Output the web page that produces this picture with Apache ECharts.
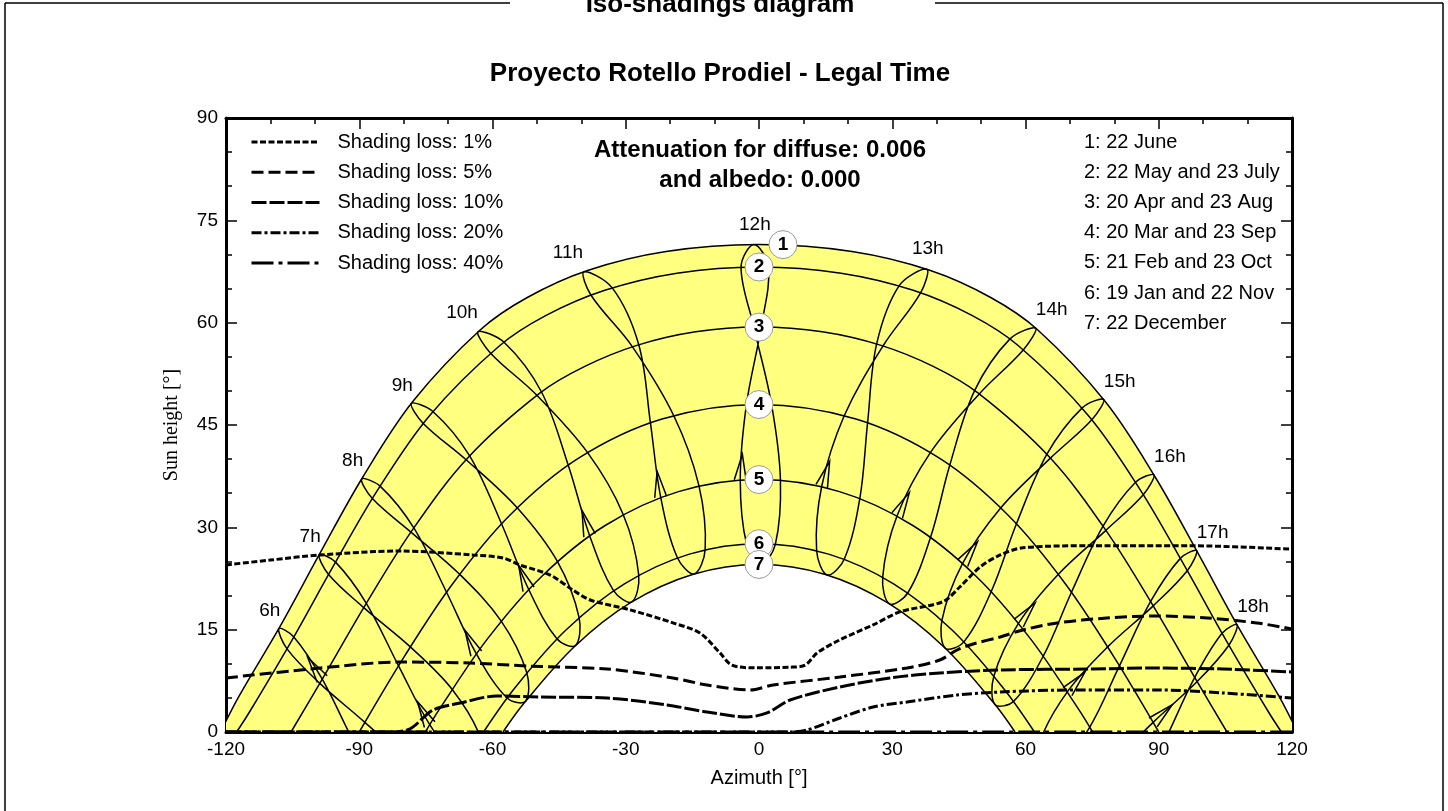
<!DOCTYPE html>
<html>
<head>
<meta charset="utf-8">
<script src="https://cdn.jsdelivr.net/npm/echarts@6/dist/echarts.min.js"></script>
<style>
  html, body { margin: 0; padding: 0; background: #fff; }
  #chart { width: 1448px; height: 811px; }
</style>
</head>
<body>
<div id="chart"></div>
<script>
// ---- texts ----
const chartTitle = 'Iso-shadings diagram';
const subTitle = 'Proyecto Rotello Prodiel - Legal Time';
const attenuationLines = ['Attenuation for diffuse: 0.006', 'and albedo: 0.000'];
const dateLabels = ['1: 22 June', '2: 22 May and 23 July', '3: 20 Apr and 23 Aug',
  '4: 20 Mar and 23 Sep', '5: 21 Feb and 23 Oct', '6: 19 Jan and 22 Nov', '7: 22 December'];
const markerLabels = ['1', '2', '3', '4', '5', '6', '7'];
const hourLabels = ['6h', '7h', '8h', '9h', '10h', '11h', '12h', '13h', '14h', '15h', '16h', '17h', '18h'];
const isoNames = ['Shading loss: 1%', 'Shading loss: 5%', 'Shading loss: 10%', 'Shading loss: 20%', 'Shading loss: 40%'];

// ---- sun paths for the seven dates (azimuth °, sun height °) ----
const curveAz = [
  [-121.2, -117.16, -107.86, -98.77, -89.19, -77.95, -62.78, -52.27, -38.6, -20.94, 0, 20.94, 38.6, 52.27, 62.78, 77.95, 89.19, 98.77, 107.86, 117.16, 121.2],
  [-117.62, -114.78, -105.26, -95.88, -85.91, -74.18, -58.47, -47.93, -34.71, -18.47, 0, 18.47, 34.71, 47.93, 58.47, 74.18, 85.91, 95.88, 105.26, 114.78, 117.62],
  [-105.36, -98.49, -88.58, -77.91, -65.38, -49.28, -39.21, -27.49, -14.25, 0, 14.25, 27.49, 39.21, 49.28, 65.38, 77.91, 88.58, 98.49, 105.36],
  [-90, -79.83, -68.88, -56.21, -40.79, -21.83, 0, 21.83, 40.79, 56.21, 68.88, 79.83, 90],
  [-75.12, -71.79, -61.05, -48.87, -34.63, -18.13, 0, 18.13, 34.63, 48.87, 61.05, 71.79, 75.12],
  [-62.02, -54.80, -43.34, -30.30, -15.67, 0, 15.67, 30.30, 43.34, 54.80, 62.02],
  [-57.64, -52.83, -41.64, -29.01, -14.96, 0, 14.96, 29.01, 41.64, 52.83, 57.64]
];
const curveH = [
  [0, 5.15, 15.44, 26.28, 37.38, 48.44, 58.93, 63.65, 67.64, 70.42, 71.44, 70.42, 67.64, 63.65, 58.93, 48.44, 37.38, 26.28, 15.44, 5.15, 0],
  [0, 2.86, 13.33, 24.27, 35.41, 46.37, 56.58, 61.06, 64.74, 67.25, 68.16, 67.25, 64.74, 61.06, 56.58, 46.37, 35.41, 24.27, 13.33, 2.86, 0],
  [0, 7.57, 18.68, 29.74, 40.31, 49.70, 53.59, 56.67, 58.66, 59.35, 58.66, 56.67, 53.59, 49.70, 40.31, 29.74, 18.68, 7.57, 0],
  [0, 11.09, 21.81, 31.70, 40.06, 45.87, 48.0, 45.87, 40.06, 31.70, 21.81, 11.09, 0],
  [0, 3.50, 13.72, 22.84, 30.27, 35.23, 37.0, 35.23, 30.27, 22.84, 13.72, 3.50, 0],
  [0, 6.60, 15.02, 21.71, 26.07, 27.60, 26.07, 21.71, 15.02, 6.60, 0],
  [0, 4.28, 12.47, 18.92, 23.10, 24.56, 23.10, 18.92, 12.47, 4.28, 0]
];

// number badges on the date paths
const markerAz = [5.4, 0, 0, 0, 0, 0, 0];
const markerH = [71.44, 68.16, 59.35, 48.0, 37.0, 27.6, 24.56];

// ---- hour loops, one row per hour, nodes Dec, Jan, Feb, Mar, Apr, May, Jun, Jul, Aug, Sep, Oct, Nov ----
const loopAz = [
  [-71.9, -76.2, -84.0, -91.27, -98.33, -104.73, -108.10, -106.26, -98.88, -88.73, -79.2, -72.4],
  [-62.6, -66.8, -74.13, -81.15, -88.41, -95.34, -99.02, -96.90, -88.99, -78.51, -69.11, -62.75],
  [-52.55, -56.71, -63.65, -70.35, -77.72, -85.31, -89.46, -87.04, -78.36, -67.41, -58.07, -52.30],
  [-41.32, -45.50, -51.87, -57.97, -65.15, -73.43, -78.29, -75.59, -65.94, -54.45, -45.43, -40.51],
  [-28.65, -32.75, -38.15, -42.96, -48.97, -57.40, -63.27, -60.48, -50.02, -38.62, -30.60, -27.08],
  [-14.57, -18.37, -22.14, -24.45, -27.07, -33.04, -39.43, -37.85, -28.49, -19.21, -13.54, -12.12],
  [0.40, -2.80, -4.22, -2.84, 0.48, 2.15, -1.15, -4.04, -1.15, 2.84, 4.83, 3.68],
  [15.35, 12.97, 14.12, 19.21, 27.91, 36.38, 37.77, 31.57, 26.49, 24.45, 22.72, 19.22],
  [29.37, 27.85, 31.11, 38.62, 49.59, 59.54, 62.29, 56.46, 48.54, 42.96, 38.66, 33.52],
  [41.96, 41.18, 45.87, 54.45, 65.61, 74.93, 77.61, 72.77, 64.82, 57.97, 52.31, 46.17],
  [53.11, 52.89, 58.45, 67.41, 78.10, 86.51, 88.92, 84.78, 77.46, 70.35, 64.03, 57.30],
  [63.1, 63.3, 69.45, 78.51, 88.75, 96.42, 98.52, 94.86, 88.17, 81.15, 74.47, 67.3],
  [72.4, 72.9, 79.5, 88.73, 98.65, 105.79, 107.62, 104.26, 98.10, 91.27, 84.4, 76.7]
];
const loopH = [
  [-15.2, -15.4, -9.86, -1.41, 7.75, 13.94, 15.16, 12.18, 7.13, 1.41, -4.46, -11.0],
  [-4.88, -4.84, 1.08, 9.70, 18.87, 24.90, 25.99, 23.09, 18.23, 12.48, 6.27, -0.72],
  [4.52, 4.99, 11.49, 20.49, 29.92, 36.04, 37.08, 34.22, 29.30, 23.13, 16.28, 8.71],
  [12.67, 13.67, 20.92, 30.53, 40.48, 46.98, 48.15, 45.23, 39.90, 32.87, 25.04, 16.79],
  [19.06, 20.72, 28.82, 39.14, 49.84, 57.12, 58.67, 55.57, 49.36, 40.98, 31.93, 23.01],
  [23.18, 25.54, 34.44, 45.35, 56.76, 65.10, 67.45, 64.06, 56.46, 46.39, 36.14, 26.77],
  [24.56, 27.55, 36.90, 47.95, 59.35, 68.16, 71.44, 68.12, 59.35, 47.95, 36.88, 27.51],
  [23.02, 26.60, 36.02, 46.39, 56.58, 64.38, 67.83, 65.42, 56.88, 45.35, 34.32, 25.37],
  [18.78, 22.70, 31.72, 40.98, 49.56, 56.04, 59.19, 57.59, 50.04, 39.14, 28.61, 20.41],
  [12.27, 16.37, 24.76, 32.87, 40.14, 45.76, 48.73, 47.51, 40.72, 30.53, 20.64, 13.25],
  [4.04, 8.21, 15.95, 23.13, 29.56, 34.78, 37.68, 36.60, 30.18, 20.49, 11.16, 4.49],
  [-5.41, -1.27, 5.92, 12.48, 18.49, 23.64, 26.57, 25.45, 19.13, 9.70, 0.73, -5.4],
  [-15.7, -11.6, -4.82, 1.41, 7.39, 12.72, 15.72, 14.48, 8.01, -1.41, -10.2, -16.0]
];

// ---- iso-shading lines ----
const iso1Az = [-120, -110.1, -98.8, -80.8, -64.4, -57.6, -53.8, -47.0, -41.9, -38.0, -29.0, -19.4, -13.3, -8.8, -6.1, -0.5, 7.0, 10.4, 13.1, 18.2, 25.7, 31.7, 41.4, 45.2, 49.8, 54.3, 59.4, 74.5, 97.0, 120];
const iso1H = [24.48, 25.2, 25.95, 26.53, 25.95, 25.5, 24.48, 23.0, 20.8, 19.35, 17.9, 16.0, 14.5, 11.6, 9.8, 9.4, 9.5, 9.8, 11.6, 13.5, 15.7, 17.6, 19.1, 21.25, 24.2, 25.95, 27.0, 27.3, 27.3, 26.8];
const iso5Az = [-120, -98.8, -80.8, -65.1, -52.2, -34.2, -19.4, -11.7, -2.0, 3.2, 18.2, 33.3, 40.7, 44.6, 48.2, 54.3, 59.4, 67.1, 78.3, 89.6, 100.9, 112.1, 120];
const iso5H = [7.92, 9.38, 10.26, 10.11, 9.67, 9.23, 7.92, 6.89, 6.16, 6.89, 8.06, 9.38, 10.55, 12.02, 12.9, 13.93, 14.95, 15.98, 16.71, 17.0, 16.71, 15.98, 15.1];
const iso10Az = [-120, -85.3, -79.2, -73.4, -67.3, -59.0, -49.3, -34.2, -20.7, -11.7, -2.7, 1.8, 7.0, 18.2, 29.5, 40.7, 54.3, 74.5, 89.6, 104.5, 120];
const iso10H = [0, 0, 0.29, 3.22, 4.25, 5.28, 5.13, 4.98, 3.96, 2.93, 2.2, 2.79, 4.69, 6.6, 7.92, 8.65, 9.09, 9.23, 9.38, 9.23, 8.8];
const iso20Az = [-120, 7.0, 10.8, 18.2, 25.7, 33.3, 44.6, 54.3, 70.7, 89.6, 104.5, 120];
const iso20H = [0, 0, 0.29, 2.05, 3.66, 4.4, 5.42, 5.86, 6.16, 6.16, 5.72, 4.98];
const iso40Az = [-120, 120];
const iso40H = [0, 0];

// ---- drawing ----
const FONT = "'Liberation Sans', Arial, Helvetica, sans-serif";
const SERIF = "'Liberation Serif', 'Times New Roman', serif";
const YELLOW = '#FFFF80';
const pairs = (xs, ys) => xs.map((x, i) => [x, ys[i]]);

const isoAz = [iso1Az, iso5Az, iso10Az, iso20Az, iso40Az];
const isoH = [iso1H, iso5H, iso10H, iso20H, iso40H];
const isoDash = [[6, 2.5], [12, 5], [15, 3], [10, 3, 3, 3], [22, 5, 4, 5]];

// closed analemma loop plus a direction arrow leaving the February node
function renderLoop(params, api) {
  const i = params.dataIndex;
  const pts = loopAz[i].map((az, j) => api.coord([az, loopH[i][j]]));
  const children = [{
    type: 'polygon',
    shape: { points: pts, smooth: 0.35 },
    style: { fill: 'none', stroke: '#000', lineWidth: 1.5 }
  }];
  let j = 2;
  while (j < 6 && loopH[i][j] <= 0) j++;
  const p0 = pts[j], p1 = pts[j + 1];
  const dx = p1[0] - p0[0], dy = p1[1] - p0[1];
  const len = Math.hypot(dx, dy) || 1;
  const ux = dx / len, uy = dy / len;
  const tip = [p0[0] + ux * 26, p0[1] + uy * 26];
  children.push({
    type: 'polyline',
    shape: { points: [[p0[0] - uy * 6, p0[1] + ux * 6], tip, [p0[0] + uy * 6, p0[1] - ux * 6]] },
    style: { fill: 'none', stroke: '#000', lineWidth: 1.5 }
  });
  return { type: 'group', children };
}

function hourLabelOffset(i) {
  const hour = 6 + i;
  if (hour <= 9) return [-9, -18];
  if (hour <= 11) return [-16, -19];
  if (hour <= 13) return [1, -20];
  return [16, -18];
}

const series = [];

// yellow band between the June and December paths
series.push({
  type: 'line', data: pairs(curveAz[0], curveH[0]), smooth: 0.35, symbol: 'none',
  lineStyle: { width: 0, opacity: 0 }, areaStyle: { color: YELLOW, opacity: 1 },
  z: 1, silent: true, animation: false
});
series.push({
  type: 'line', data: pairs(curveAz[6], curveH[6]), smooth: 0.35, symbol: 'none',
  lineStyle: { width: 0, opacity: 0 }, areaStyle: { color: '#FFFFFF', opacity: 1 },
  z: 1, silent: true, animation: false
});

// date paths
curveAz.forEach((az, k) => {
  series.push({
    type: 'line', data: pairs(az, curveH[k]), smooth: 0.35, symbol: 'none',
    lineStyle: { color: '#000', width: 1.5 }, z: 3, silent: true, animation: false
  });
});

// hour loops
series.push({
  type: 'custom', renderItem: renderLoop,
  data: loopAz.map((row, i) => [row[6], loopH[i][6]]),
  encode: { x: 0, y: 1 }, clip: true, z: 3, silent: true, animation: false
});

// iso-shading lines
isoNames.forEach((name, k) => {
  series.push({
    type: 'line', name, data: pairs(isoAz[k], isoH[k]), smooth: 0.3, symbol: 'none',
    lineStyle: { color: '#000', width: 3, type: isoDash[k], cap: 'butt' },
    itemStyle: { color: '#000' }, z: 4, silent: true, animation: false
  });
});

// numbered badges
series.push({
  type: 'scatter', data: pairs(markerAz, markerH), symbol: 'circle', symbolSize: 28,
  itemStyle: { color: '#fff', borderColor: '#9a9a9a', borderWidth: 1, opacity: 1 },
  label: {
    show: true, position: 'inside', formatter: p => markerLabels[p.dataIndex],
    color: '#000', fontSize: 19, fontWeight: 'bold', fontFamily: FONT
  },
  z: 6, silent: true, animation: false
});

// hour names at the June end of each loop
series.push({
  type: 'scatter',
  data: hourLabels.map((t, i) => ({ value: [loopAz[i][6], loopH[i][6]], label: { offset: hourLabelOffset(i) } })),
  symbol: 'circle', symbolSize: 1, itemStyle: { color: 'rgba(0,0,0,0)', opacity: 1 },
  label: {
    show: true, position: 'inside', formatter: p => hourLabels[p.dataIndex],
    color: '#000', opacity: 1, fontSize: 19, fontFamily: FONT
  },
  z: 6, silent: true, animation: false
});

const axisLine = { onZero: false, lineStyle: { color: '#000', width: 3 } };
const axisTick = { inside: true, length: 11, lineStyle: { color: '#000', width: 1.5 } };
const minorTick = { show: true, splitNumber: 3, length: 6, lineStyle: { color: '#000', width: 1.5 } };
const tickFont = { color: '#000', fontSize: 19, fontFamily: FONT };

const option = {
  backgroundColor: '#fff',
  animation: false,
  grid: { left: 226, right: 156, top: 118, bottom: 79, containLabel: false },
  xAxis: [
    {
      type: 'value', min: -120, max: 120, interval: 30, position: 'bottom',
      axisLine, axisTick, minorTick, splitLine: { show: false }, minorSplitLine: { show: false },
      axisLabel: Object.assign({ margin: 8 }, tickFont),
      name: 'Azimuth [°]', nameLocation: 'middle', nameGap: 36,
      nameTextStyle: { color: '#000', fontSize: 20, fontFamily: FONT }
    },
    {
      type: 'value', min: -120, max: 120, interval: 30, position: 'top',
      axisLine, axisTick, minorTick, splitLine: { show: false }, axisLabel: { show: false }
    }
  ],
  yAxis: [
    {
      type: 'value', min: 0, max: 90, interval: 15, position: 'left',
      axisLine, axisTick, minorTick, splitLine: { show: false }, minorSplitLine: { show: false },
      axisLabel: Object.assign({ margin: 8 }, tickFont),
      name: 'Sun height [°]', nameLocation: 'middle', nameGap: 44, nameRotate: 90,
      nameTextStyle: { color: '#000', fontSize: 20, fontFamily: SERIF }
    },
    {
      type: 'value', min: 0, max: 90, interval: 15, position: 'right',
      axisLine, axisTick, minorTick, splitLine: { show: false }, axisLabel: { show: false }
    }
  ],
  legend: {
    data: isoNames, orient: 'vertical', left: 250, top: 131, padding: 0,
    itemWidth: 68, itemHeight: 14, itemGap: 8.25, selectedMode: false,
    itemStyle: { opacity: 0 }, lineStyle: { width: 3 },
    textStyle: { color: '#000', fontSize: 20, fontFamily: FONT, lineHeight: 22, padding: [0, 0, 0, 13] }
  },
  graphic: [
    { type: 'line', shape: { x1: 5, y1: 3, x2: 510, y2: 3 }, style: { stroke: '#000', lineWidth: 1.5 }, silent: true },
    { type: 'line', shape: { x1: 935, y1: 3, x2: 1443, y2: 3 }, style: { stroke: '#000', lineWidth: 1.5 }, silent: true },
    { type: 'line', shape: { x1: 5, y1: 3, x2: 5, y2: 811 }, style: { stroke: '#000', lineWidth: 1.5 }, silent: true },
    { type: 'line', shape: { x1: 1443, y1: 3, x2: 1443, y2: 811 }, style: { stroke: '#000', lineWidth: 1.5 }, silent: true },
    {
      type: 'text', x: 720, y: 5, silent: true,
      style: { text: chartTitle, font: 'bold 26px ' + FONT, fill: '#000', textAlign: 'center', align: 'center', textVerticalAlign: 'middle', verticalAlign: 'middle' }
    },
    {
      type: 'text', x: 720, y: 74, silent: true,
      style: { text: subTitle, font: 'bold 26px ' + FONT, fill: '#000', textAlign: 'center', align: 'center', textVerticalAlign: 'middle', verticalAlign: 'middle' }
    },
    {
      type: 'text', x: 760, y: 135, silent: true,
      style: { text: attenuationLines.join('\n'), font: 'bold 24px ' + FONT, lineHeight: 30, fill: '#000', textAlign: 'center', align: 'center', textVerticalAlign: 'top', verticalAlign: 'top' }
    },
    {
      type: 'text', x: 1084, y: 127, silent: true,
      style: { text: dateLabels.join('\n'), font: '20px ' + FONT, lineHeight: 30.2, fill: '#000', textAlign: 'left', align: 'left', textVerticalAlign: 'top', verticalAlign: 'top' }
    }
  ],
  series
};

const chart = echarts.init(document.getElementById('chart'), null, { renderer: 'canvas' });
chart.setOption(option);
</script>
</body>
</html>
